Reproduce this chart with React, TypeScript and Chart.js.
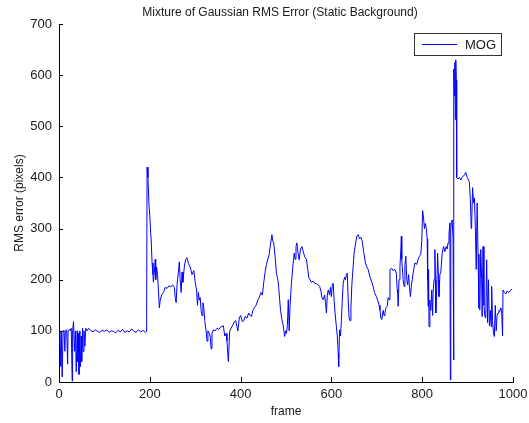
import React, { useEffect, useRef } from "react";
import { Chart, registerables } from "chart.js";

Chart.register(...registerables);

const chartTitle = "Mixture of Gaussian RMS Error (Static Background)";
const xAxisTitle = "frame";
const yAxisTitle = "RMS error (pixels)";
const seriesName = "MOG";
const xTickValues = [0, 200, 400, 600, 800, 1000];
const yTickValues = [0, 100, 200, 300, 400, 500, 600, 700];

const frames = [
  0, 2, 4, 5, 7, 9, 11, 13, 14, 17, 19, 20, 23, 25, 27, 29, 30, 32, 34, 36, 38, 40, 41, 43, 44, 46, 47, 49, 50, 52, 53, 55, 57, 59,
  62, 65, 70, 75, 80, 85, 90, 95, 100, 105, 110, 115, 120, 125, 130, 135, 140, 145, 150, 155, 160, 165, 170, 175, 180, 185, 190, 193,
  194, 196, 198, 200, 202, 203, 205, 207, 208, 210, 212, 213, 215, 217, 219, 221, 223, 226, 230, 234, 238, 242, 246, 250, 254, 256,
  258, 260, 263, 265, 267, 269, 271, 273, 276, 279, 282, 285, 289, 293, 297, 300, 303, 305, 307, 309, 311, 313, 315, 317, 319, 321,
  324, 326, 328, 331, 333, 335, 337, 340, 344, 348, 352, 357, 362, 365, 368, 370, 373, 376, 379, 382, 386, 389, 392, 394, 397, 400,
  404, 407, 410, 414, 418, 421, 424, 427, 430, 434, 438, 441, 445, 448, 451, 454, 457, 460, 463, 466, 469, 471, 473, 476, 479, 482,
  484, 486, 488, 491, 494, 497, 499, 501, 503, 505, 507, 509, 512, 515, 518, 520, 522, 524, 526, 529, 532, 535, 538, 541, 545, 548,
  550, 553, 556, 560, 563, 567, 571, 574, 577, 579, 582, 585, 587, 589, 591, 593, 596, 598, 600, 602, 604, 606, 608, 611, 613, 615,
  616, 618, 620, 622, 624, 626, 629, 631, 633, 635, 637, 639, 641, 643, 645, 647, 650, 653, 656, 659, 662, 665, 668, 671, 675, 678,
  681, 685, 689, 692, 695, 699, 702, 705, 707, 709, 711, 714, 716, 718, 720, 723, 725, 727, 729, 733, 736, 740, 743, 745, 746, 747,
  749, 751, 753, 754, 755, 756, 758, 760, 762, 764, 766, 768, 770, 772, 774, 776, 778, 780, 784, 788, 791, 794, 797, 799, 801, 803,
  805, 807, 809, 811, 812, 813, 814, 815, 817, 819, 821, 823, 824, 826, 828, 829, 830, 832, 834, 836, 837, 839, 841, 844, 847, 850,
  853, 855, 857, 859, 861, 862, 863, 864, 866, 868, 869, 870, 871, 872, 873, 874, 875, 876, 879, 882, 885, 888, 890, 893, 896, 899,
  902, 904, 906, 908, 909, 911, 913, 915, 917, 919, 921, 923, 925, 927, 929, 931, 932, 934, 936, 938, 940, 942, 944, 946, 948, 950,
  952, 953, 955, 957, 959, 961, 963, 965, 967, 969, 971, 973, 975, 977, 978, 981, 984, 987, 990, 993, 996, 998,
];

const rmsError = [
  100, 98, 30, 100, 10, 100, 101, 60, 100, 102, 35, 100, 103, 100, 105, 2, 100, 118, 60, 100, 20, 100, 40, 95, 15, 100, 30, 90, 40, 105, 60, 100, 70, 105,
  100, 105, 101, 98, 102, 99, 97, 101, 99, 102, 97, 100, 99, 96, 101, 98, 103, 97, 100, 98, 104, 99, 97, 102, 98, 101, 97, 99,
  420, 400, 350, 325, 290, 279, 233, 210, 195, 215, 240, 200, 225, 210, 180, 145, 160, 170, 175, 185, 183, 188, 186, 190, 185, 165,
  155, 190, 215, 235, 200, 175, 215, 195, 225, 240, 243, 232, 225, 210, 218, 195, 180, 150, 175, 160, 165, 140, 130, 155, 145, 120,
  100, 80, 100, 95, 90, 65, 95, 102, 100, 105, 103, 108, 110, 90, 95, 80, 40, 100, 105, 110, 118, 120, 108, 100, 125, 130,
  118, 120, 128, 125, 135, 130, 128, 140, 145, 150, 160, 165, 175, 170, 195, 215, 230, 240, 250, 270, 288, 275, 272, 245, 213, 200,
  185, 161, 140, 122, 110, 89, 100, 95, 110, 161, 100, 150, 193, 225, 252, 240, 265, 272, 255, 239, 260, 265, 255, 245, 240, 220,
  205, 200, 195, 197, 193, 192, 190, 187, 178, 165, 161, 170, 155, 135, 170, 180, 170, 185, 167, 190, 193, 160, 135, 108, 90, 56,
  30, 102, 90, 120, 160, 193, 205, 200, 210, 213, 160, 125, 120, 145, 190, 215, 252, 270, 285, 288, 280, 283, 275, 255, 233, 225,
  220, 205, 195, 187, 175, 167, 160, 150, 140, 125, 122, 140, 130, 135, 145, 148, 165, 161, 220, 222, 218, 220, 213, 180, 174, 148,
  200, 226, 260, 285, 240, 226, 200, 187, 230, 246, 200, 190, 210, 185, 167, 187, 200, 213, 233, 230, 240, 246, 250, 275, 335, 320,
  300, 310, 300, 280, 200, 148, 220, 108, 160, 140, 180, 130, 175, 200, 259, 200, 135, 180, 252, 200, 167, 210, 215, 252, 265, 255,
  265, 260, 272, 290, 311, 4, 300, 311, 317, 280, 43, 612, 560, 625, 513, 630, 590, 400, 397, 400, 395, 400, 402, 405, 410, 400,
  395, 390, 357, 300, 311, 380, 350, 360, 304, 220, 350, 250, 145, 141, 259, 200, 128, 265, 150, 128, 125, 239, 116, 200, 110, 140,
  108, 187, 120, 96, 89, 150, 100, 130, 135, 140, 138, 145, 140, 90, 180, 175, 172, 178, 175, 178, 180, 182,
];

const FONT = "'Liberation Sans', Arial, Helvetica, sans-serif";
const TEXT = "#1a1a1a";

const decorations = {
  id: "matlabDecorations",
  afterDraw(chart: any) {
    const { ctx, chartArea, scales } = chart;
    const { left, bottom } = chartArea;
    const x = scales.x;
    const y = scales.y;
    ctx.save();
    // inward tick marks
    ctx.strokeStyle = "#000";
    ctx.lineWidth = 1;
    ctx.beginPath();
    x.ticks.forEach((t: any) => {
      const px = Math.round(x.getPixelForValue(t.value)) + 0.5;
      ctx.moveTo(px, bottom);
      ctx.lineTo(px, bottom - 5);
    });
    y.ticks.forEach((t: any) => {
      const py = Math.round(y.getPixelForValue(t.value)) + 0.5;
      ctx.moveTo(left, py);
      ctx.lineTo(left + 4, py);
    });
    ctx.stroke();

    // title
    ctx.fillStyle = TEXT;
    ctx.font = `12px ${FONT}`;
    ctx.textAlign = "center";
    ctx.textBaseline = "middle";
    ctx.fillText(chartTitle, 280, 13);

    // legend
    const bx = 414.5, by = 33.5, bw = 87, bh = 22;
    ctx.fillStyle = "#fff";
    ctx.fillRect(bx, by, bw, bh);
    ctx.strokeStyle = "#333";
    ctx.strokeRect(bx, by, bw, bh);
    ctx.strokeStyle = "#0000ff";
    ctx.beginPath();
    ctx.moveTo(422, 44.5);
    ctx.lineTo(457, 44.5);
    ctx.stroke();
    ctx.fillStyle = TEXT;
    ctx.textAlign = "left";
    ctx.font = `13px ${FONT}`;
    ctx.fillText(seriesName, 465, 45);
    ctx.restore();
  },
};

export default function App() {
  const canvasRef = useRef<HTMLCanvasElement | null>(null);

  useEffect(() => {
    const canvas = canvasRef.current;
    if (!canvas) return;
    const points = frames.map((f, i) => ({ x: f, y: rmsError[i] }));
    const chart = new Chart(canvas, {
      type: "line",
      data: {
        datasets: [
          {
            label: seriesName,
            data: points,
            borderColor: "#0000ff",
            backgroundColor: "#0000ff",
            borderWidth: 1,
            pointRadius: 0,
            tension: 0,
            fill: false,
          },
        ],
      },
      options: {
        responsive: false,
        animation: false,
        devicePixelRatio: 1,
        layout: { padding: { top: 24, right: 16, left: 0, bottom: 0 } },
        plugins: {
          legend: { display: false },
          title: { display: false },
          tooltip: { enabled: false },
        },
        scales: {
          x: {
            type: "linear",
            min: 0,
            max: 1000,
            afterBuildTicks: (scale: any) => {
              scale.ticks = xTickValues.map((v) => ({ value: v }));
            },
            afterFit: (scale: any) => {
              scale.height = 41;
              scale.paddingLeft = 0;
              scale.paddingRight = 0;
            },
            grid: { display: false, drawTicks: false },
            border: { display: true, color: "#000", width: 1 },
            ticks: {
              padding: 5,
              color: TEXT,
              font: { family: FONT, size: 13 },
              maxRotation: 0,
              autoSkip: false,
              callback: (v: any) => String(v),
            },
            title: {
              display: true,
              text: xAxisTitle,
              color: TEXT,
              font: { family: FONT, size: 12 },
              padding: { top: 0, bottom: 4 },
            },
          },
          y: {
            type: "linear",
            min: 0,
            max: 700,
            afterBuildTicks: (scale: any) => {
              scale.ticks = yTickValues.map((v) => ({ value: v }));
            },
            afterFit: (scale: any) => {
              scale.width = 59;
              scale.paddingTop = 0;
              scale.paddingBottom = 0;
            },
            grid: { display: false, drawTicks: false },
            border: { display: true, color: "#000", width: 1 },
            ticks: {
              padding: 7,
              color: TEXT,
              font: { family: FONT, size: 13 },
              autoSkip: false,
              callback: (v: any) => String(v),
            },
            title: {
              display: true,
              text: yAxisTitle,
              color: TEXT,
              font: { family: FONT, size: 12 },
              padding: { top: 12, bottom: 0 },
            },
          },
        },
      },
      plugins: [decorations],
    } as any);
    return () => chart.destroy();
  }, []);

  return (
    <div style={{ position: "absolute", left: 0, top: 0, width: 529, height: 423, background: "#fff" }}>
      <canvas ref={canvasRef} width={529} height={423} style={{ display: "block" }} />
    </div>
  );
}
